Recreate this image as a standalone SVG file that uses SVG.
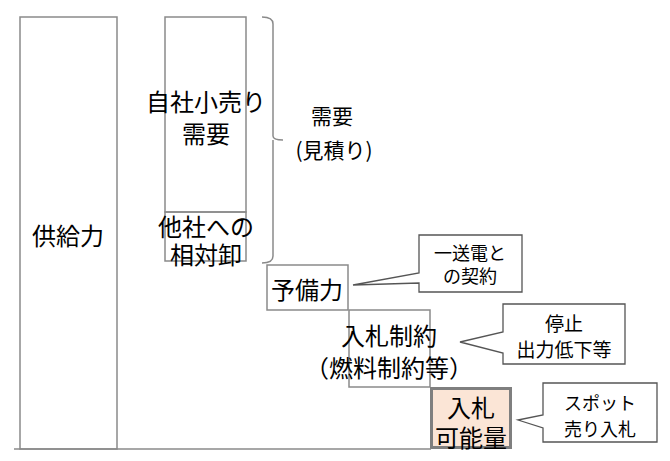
<svg xmlns="http://www.w3.org/2000/svg" width="670" height="461" viewBox="0 0 670 461">
<style>
.box{fill:none;stroke:#8a8a8a;stroke-width:1.5}
.t{font-family:"Noto Sans CJK JP","Noto Sans",sans-serif;fill:#000;text-anchor:middle;dominant-baseline:central}
.b{font-size:24px}
.m{font-size:21px}
.s{font-size:18px}
.s2{font-size:19px}
.call{fill:#fff;stroke:#555;stroke-width:1.3}
</style>
<rect width="670" height="461" fill="#fff"/>
<g id="supply">
<rect class="box" x="20" y="17" width="97" height="432"/>
<text class="t b" x="68" y="234">供給力</text>
</g>
<g id="own-demand">
<rect class="box" x="165" y="17" width="81" height="195"/>
<text class="t b" x="206" y="100">自社小売り</text>
<text class="t b" x="206" y="132">需要</text>
</g>
<g id="wholesale">
<rect class="box" x="165" y="212" width="81" height="49"/>
<text class="t b" x="206" y="225">他社への</text>
<text class="t b" x="206" y="253">相対卸</text>
</g>
<g id="demand-brace">
<path class="box" d="M262,17 Q273,17 273,24 L273,136 Q273,140 283,140 M273,140 Q273,144 273,150 L273,256 Q273,263 262,263"/>
<text class="t m" x="332" y="115">需要</text>
<text class="t m" x="334" y="149">(見積り)</text>
</g>
<g id="reserve">
<rect class="box" x="267" y="265" width="81" height="45"/>
<text class="t b" x="307" y="288">予備力</text>
</g>
<g id="bid-constraint">
<rect class="box" x="349" y="310" width="81" height="77"/>
<text class="t b" x="389" y="334">入札制約</text>
<text class="t b" x="389" y="366">（燃料制約等）</text>
</g>
<g id="bid-volume">
<rect x="431.5" y="388.5" width="79" height="59" fill="#fbe5d6" stroke="#7f7f7f" stroke-width="3"/>
<text class="t b" x="471" y="406">入札</text>
<text class="t b" x="471" y="436">可能量</text>
</g>
<g id="connectors">
<line x1="14" y1="449" x2="431" y2="449" stroke="#8a8a8a" stroke-width="1.5"/>
</g>
<g id="callout-reserve">
<path class="call" d="M419,235 H522 V292 H419 V283 L353,285 L419,273 Z"/>
<text class="t s" x="470" y="252">一送電と</text>
<text class="t s" x="470" y="275">の契約</text>
</g>
<g id="callout-constraint">
<path class="call" d="M503,304 H625 V364 H503 V353 L460,342 L503,332 Z"/>
<text class="t s2" x="564" y="322">停止</text>
<text class="t s2" x="564" y="348">出力低下等</text>
</g>
<g id="callout-spot">
<path class="call" d="M543,383 H657 V442 H543 V428 L518,420 L543,415 Z"/>
<text class="t s" x="600" y="402">スポット</text>
<text class="t s" x="600" y="428">売り入札</text>
</g>
</svg>
